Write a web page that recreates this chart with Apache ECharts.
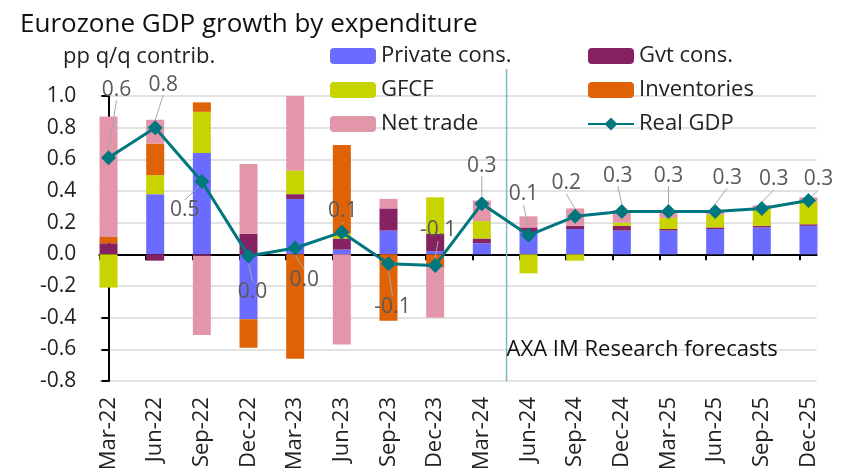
<!DOCTYPE html>
<html>
<head>
<meta charset="utf-8">
<script src="https://cdn.jsdelivr.net/npm/echarts@6/dist/echarts.min.js"></script>
<style>
  html, body { margin: 0; background: #fff; }
  #chart { width: 851px; height: 470px; }
</style>
</head>
<body>
<div id="chart"></div>
<script>
const quarters = ["Mar-22", "Jun-22", "Sep-22", "Dec-22", "Mar-23", "Jun-23", "Sep-23", "Dec-23",
  "Mar-24", "Jun-24", "Sep-24", "Dec-24", "Mar-25", "Jun-25", "Sep-25", "Dec-25"];
const privateCons = [0.00, 0.38, 0.64, -0.41, 0.35, 0.03, 0.15, 0.02, 0.07, 0.14, 0.16, 0.15, 0.15, 0.16, 0.17, 0.18];
const gvtCons = [0.07, -0.04, -0.01, 0.13, 0.03, 0.07, 0.14, 0.11, 0.03, 0.03, 0.02, 0.03, 0.01, 0.01, 0.01, 0.01];
const gfcf = [-0.21, 0.12, 0.26, 0.00, 0.15, 0.03, 0.00, 0.23, 0.11, -0.12, -0.04, 0.02, 0.07, 0.08, 0.11, 0.14];
const inventories = [0.04, 0.20, 0.06, -0.18, -0.66, 0.56, -0.42, -0.08, 0.00, 0.00, 0.00, 0.00, 0.00, 0.00, 0.00, 0.00];
const netTrade = [0.76, 0.15, -0.50, 0.44, 0.50, -0.57, 0.06, -0.32, 0.13, 0.07, 0.11, 0.08, 0.04, 0.02, 0.02, 0.03];
const realGdp = [0.61, 0.80, 0.46, -0.01, 0.04, 0.14, -0.06, -0.07, 0.32, 0.12, 0.24, 0.27, 0.27, 0.27, 0.29, 0.34];
const yTicks = [-0.8, -0.6, -0.4, -0.2, 0.0, 0.2, 0.4, 0.6, 0.8, 1.0];

// forecasts start between Mar-24 and Jun-24
const forecastStart = 8.53;
const forecastText = "AXA IM Research forecasts";

// label offsets (px) of the GDP data labels from their markers
const gdpLabelDx = [8, 8, -17, 4, 9, 1, 4, 3, 0, -5, -9, -4, 0, 12, 12, 10];
const gdpLabelDy = [-68, -43, 29, 36, 32, -21, 43, -35, -38, -41, -33, -36, -36, -34, -29, -21];

const FONT = "Open Sans";
// axis frame grid: x runs in category-index units so ticks/labels line up with the bars
const xMin = -0.197, xMax = 15.175;

const chart = echarts.init(document.getElementById("chart"), null, { renderer: "canvas" });

const barSeries = (name, arr, color) => ({
  name,
  type: "bar",
  stack: "contrib",
  xAxisIndex: 0,
  yAxisIndex: 0,
  barWidth: 18,
  data: arr,
  itemStyle: { color },
  emphasis: { disabled: true },
});

const option = {
  animation: false,
  textStyle: { fontFamily: FONT },
  title: [
    {
      text: "Eurozone GDP growth by expenditure",
      left: 15, top: 7,
      textStyle: { fontFamily: FONT, fontSize: 26, fontWeight: "normal", color: "#111" },
    },
    {
      text: "pp q/q contrib.",
      left: 58, top: 41,
      textStyle: { fontFamily: FONT, fontSize: 22, fontWeight: "normal", color: "#222" },
    },
  ],
  legend: [
    {
      data: ["Private cons.", "GFCF", "Net trade"],
      orient: "vertical",
      left: 325, top: 40,
      itemWidth: 46, itemHeight: 16, itemGap: 12,
      textStyle: { fontFamily: FONT, fontSize: 22, color: "#222" },
    },
    {
      data: ["Gvt cons.", "Inventories", "Real GDP"],
      orient: "vertical",
      left: 582, top: 40,
      itemWidth: 46, itemHeight: 16, itemGap: 12,
      textStyle: { fontFamily: FONT, fontSize: 22, color: "#222" },
    },
  ],
  grid: [
    // bars and GDP line
    { left: 85.2, right: 19.2, top: 96, bottom: 89, outerBoundsMode: "none", containLabel: false },
    // axis frame
    { left: 99.3, right: 34.3, top: 96, bottom: 89, outerBoundsMode: "none", containLabel: false },
  ],
  xAxis: [
    {
      type: "category",
      gridIndex: 0,
      data: quarters,
      show: false,
    },
    {
      type: "value",
      gridIndex: 1,
      min: xMin, max: xMax,
      position: "bottom",
      axisLine: { show: false, onZero: false },
      axisTick: { show: false },
      splitLine: { show: false },
      axisLabel: {
        customValues: quarters.map((_, i) => i),
        formatter: (v) => quarters[Math.round(v)],
        rotate: 90,
        margin: 16,
        fontFamily: FONT, fontSize: 22, color: "#222",
      },
    },
    {
      type: "value",
      gridIndex: 1,
      min: xMin, max: xMax,
      position: "bottom",
      axisLine: { show: true, onZero: true, lineStyle: { color: "#000", width: 2 } },
      axisTick: {
        show: true, length: 6,
        customValues: quarters.map((_, i) => i + xMin),
        lineStyle: { color: "#000", width: 2 },
      },
      axisLabel: { show: false },
      splitLine: { show: false },
    },
  ],
  yAxis: [
    {
      type: "value",
      gridIndex: 0,
      min: -0.8, max: 1.0,
      show: false,
    },
    {
      type: "value",
      gridIndex: 1,
      min: -0.8, max: 1.0, interval: 0.2,
      axisLine: { show: true, lineStyle: { color: "#000", width: 2 } },
      axisTick: { show: true, length: 7, lineStyle: { color: "#000", width: 2 } },
      axisLabel: {
        customValues: yTicks,
        formatter: (v) => v.toFixed(1),
        fontFamily: FONT, fontSize: 21, color: "#222", margin: 23,
      },
      splitLine: { lineStyle: { color: "#d9d9d9", width: 1.5 } },
    },
  ],
  series: [
    barSeries("Private cons.", privateCons, "#6B6BFF"),
    barSeries("Gvt cons.", gvtCons, "#862262"),
    barSeries("GFCF", gfcf, "#C8D400"),
    barSeries("Inventories", inventories, "#E06207"),
    barSeries("Net trade", netTrade, "#E396A9"),
    {
      type: "custom",
      xAxisIndex: 1,
      yAxisIndex: 1,
      silent: true,
      z: 1,
      data: [[forecastStart, 1.17, -0.8, -0.6]],
      renderItem(params, api) {
        const top = api.coord([api.value(0), api.value(1)]);
        const bottom = api.coord([api.value(0), api.value(2)]);
        const textPos = api.coord([api.value(0), api.value(3)]);
        return {
          type: "group",
          children: [
            {
              type: "line",
              shape: { x1: top[0], y1: top[1], x2: bottom[0], y2: bottom[1] },
              style: { stroke: "#7FB8C0", lineWidth: 1.5 },
            },
            {
              type: "text",
              x: textPos[0], y: textPos[1],
              style: {
                text: forecastText,
                fontFamily: FONT, fontSize: 22, fill: "#111",
                align: "left", verticalAlign: "middle",
              },
            },
          ],
        };
      },
    },
    {
      name: "Real GDP",
      type: "line",
      xAxisIndex: 0,
      yAxisIndex: 0,
      z: 10,
      data: realGdp,
      symbol: "diamond",
      symbolSize: 15,
      lineStyle: { color: "#00777F", width: 3 },
      itemStyle: { color: "#00777F" },
      emphasis: { disabled: true },
      label: {
        show: true,
        position: "inside",
        formatter: (p) => (Math.round(p.value * 10) / 10).toFixed(1),
        fontFamily: FONT, fontSize: 21, color: "#595959",
      },
      labelLayout: (p) => ({ dx: gdpLabelDx[p.dataIndex], dy: gdpLabelDy[p.dataIndex] }),
      labelLine: { show: true, lineStyle: { color: "#A6A6A6", width: 1 } },
    },
  ],
};

chart.setOption(option);
</script>
</body>
</html>
